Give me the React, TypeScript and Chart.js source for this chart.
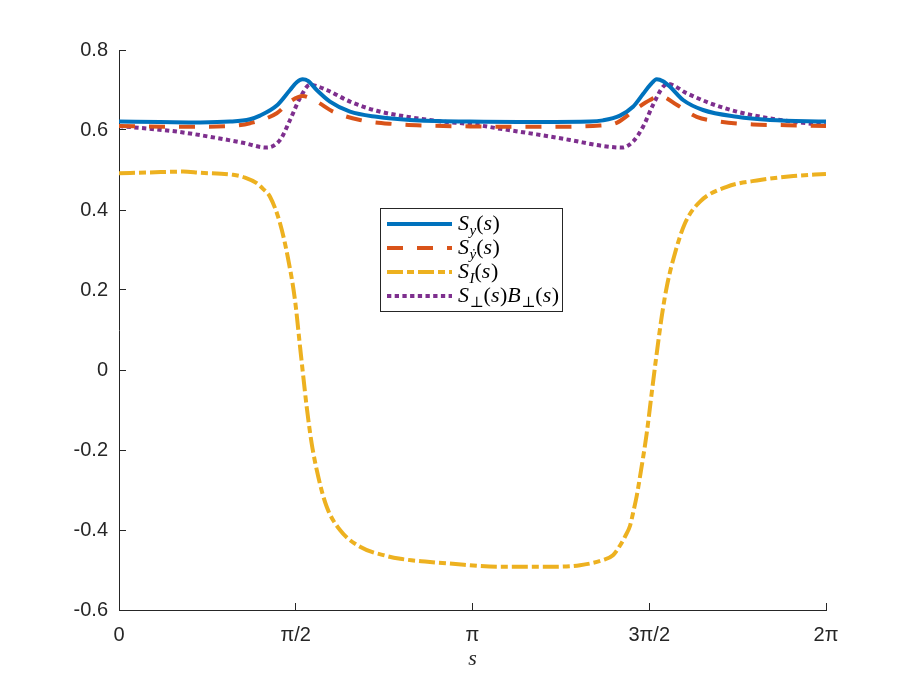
import React, { useEffect, useRef } from 'react'
import { Chart, registerables } from 'chart.js'
Chart.register(...registerables)

// values, s in radians
const sSy = [0, 0.364, 0.72, 0.986, 1.164, 1.253, 1.402, 1.52, 1.582, 1.632, 1.68, 1.757, 1.875, 2.053, 2.29, 2.586, 3.119, 3.741, 4.186, 4.301, 4.452, 4.568, 4.657, 4.719, 4.779, 4.835, 4.897, 5.013, 5.19, 5.49, 5.786, 6.283]
const vSy = [0.621, 0.62, 0.619, 0.621, 0.627, 0.636, 0.661, 0.7, 0.72, 0.727, 0.723, 0.7, 0.671, 0.646, 0.633, 0.625, 0.621, 0.62, 0.621, 0.624, 0.636, 0.658, 0.69, 0.712, 0.727, 0.722, 0.708, 0.675, 0.65, 0.633, 0.625, 0.621]

const sSyd = [0, 0.542, 0.986, 1.164, 1.402, 1.52, 1.632, 1.757, 1.902, 2.142, 2.435, 2.737, 3.119, 3.741, 4.275, 4.423, 4.601, 4.719, 4.808, 4.956, 5.134, 5.341, 5.635, 5.934, 6.283]
const vSyd = [0.61, 0.608, 0.61, 0.617, 0.642, 0.671, 0.685, 0.671, 0.646, 0.625, 0.615, 0.611, 0.609, 0.608, 0.611, 0.618, 0.654, 0.675, 0.685, 0.663, 0.633, 0.621, 0.614, 0.612, 0.61]

const sSI = [0, 0.276, 0.569, 0.72, 1.013, 1.12, 1.224, 1.28, 1.342, 1.431, 1.505, 1.564, 1.609, 1.638, 1.668, 1.712, 1.771, 1.846, 1.964, 2.142, 2.379, 2.5, 2.72, 2.94, 3.386, 3.83, 4.097, 4.301, 4.39, 4.45, 4.5, 4.541, 4.568, 4.601, 4.63, 4.69, 4.734, 4.779, 4.823, 4.868, 4.941, 5.03, 5.164, 5.401, 5.697, 5.993, 6.283]
const vSI = [0.492, 0.494, 0.496, 0.493, 0.488, 0.481, 0.467, 0.453, 0.433, 0.367, 0.275, 0.175, 0.058, -0.017, -0.092, -0.183, -0.267, -0.342, -0.4, -0.442, -0.465, -0.472, -0.479, -0.484, -0.492, -0.492, -0.488, -0.475, -0.463, -0.44, -0.415, -0.39, -0.358, -0.315, -0.267, -0.158, -0.058, 0.042, 0.133, 0.208, 0.292, 0.367, 0.421, 0.458, 0.475, 0.485, 0.49]

const sSB = [0, 0.513, 0.809, 1.102, 1.313, 1.431, 1.52, 1.609, 1.697, 1.846, 2.053, 2.29, 2.586, 2.879, 3.119, 3.413, 3.712, 4.008, 4.301, 4.468, 4.568, 4.657, 4.746, 4.835, 4.879, 5.045, 5.252, 5.49, 5.786, 6.079, 6.283]
const vSB = [0.61, 0.596, 0.583, 0.568, 0.556, 0.575, 0.625, 0.68, 0.713, 0.7, 0.671, 0.648, 0.632, 0.621, 0.615, 0.602, 0.589, 0.575, 0.56, 0.556, 0.571, 0.608, 0.663, 0.708, 0.715, 0.692, 0.667, 0.646, 0.629, 0.618, 0.612]

const seriesLabels = ['S_y(s)', 'S_ẏ(s)', 'S_I(s)', 'S_⊥(s)B_⊥(s)']

const xTicks = [0, Math.PI / 2, Math.PI, (3 * Math.PI) / 2, 2 * Math.PI]
const xTickLabels = ['0', 'π/2', 'π', '3π/2', '2π']
const yTicks = [-0.6, -0.4, -0.2, 0, 0.2, 0.4, 0.6, 0.8]
const yTickLabels = ['-0.6', '-0.4', '-0.2', '0', '0.2', '0.4', '0.6', '0.8']

const axisColor = '#262626'
const tickFont = { family: '"Liberation Sans", Arial, sans-serif', size: 20 }

const pts = (xs: number[], ys: number[]) => xs.map((x, i) => ({ x, y: ys[i] }))

// draws "S_y(s)" style labels: letters italic, "_c" as subscript
function drawMath(ctx: CanvasRenderingContext2D, text: string, x: number, y: number) {
  const serif = '"Liberation Serif", "DejaVu Serif", serif'
  let i = 0
  while (i < text.length) {
    let sub = false
    if (text[i] === '_') { sub = true; i++ }
    const ch = text[i]
    const italic = /[A-Za-zẏ]/.test(ch)
    ctx.font = `${italic ? 'italic ' : ''}${sub ? 15 : 22}px ${serif}`
    ctx.fillText(ch, x, sub ? y + 5 : y)
    x += ctx.measureText(ch).width + (italic && !sub ? 0.5 : 0)
    i++
  }
}

const mathLegend = {
  id: 'mathLegend',
  afterDraw(chart: any) {
    const { ctx, chartArea: a } = chart
    const x0 = Math.round(a.left + (a.right - a.left) * 0.369)
    const y0 = Math.round(a.top + (a.bottom - a.top) * 0.282)
    const w = 182, h = 103
    ctx.save()
    ctx.fillStyle = '#fff'
    ctx.fillRect(x0, y0, w, h)
    ctx.strokeStyle = axisColor
    ctx.lineWidth = 1
    ctx.strokeRect(x0 + 0.5, y0 + 0.5, w, h)
    chart.data.datasets.forEach((ds: any, i: number) => {
      const y = y0 + 16 + i * 24
      ctx.beginPath()
      ctx.setLineDash(ds.borderDash || [])
      ctx.strokeStyle = ds.borderColor
      ctx.lineWidth = ds.borderWidth
      ctx.lineCap = 'butt'
      ctx.moveTo(x0 + 7, y)
      ctx.lineTo(x0 + 72, y)
      ctx.stroke()
      ctx.setLineDash([])
      ctx.fillStyle = '#000'
      ctx.textBaseline = 'alphabetic'
      drawMath(ctx, ds.label, x0 + 78, y + 6)
    })
    ctx.restore()
  },
}

export default function App() {
  const ref = useRef<HTMLCanvasElement | null>(null)
  useEffect(() => {
    if (!ref.current) return
    const line = { pointRadius: 0, fill: false, cubicInterpolationMode: 'monotone' as const, borderCapStyle: 'butt' as const }
    const chart = new Chart(ref.current, {
      type: 'line',
      data: {
        datasets: [
          { ...line, label: seriesLabels[0], data: pts(sSy, vSy), borderColor: '#0072BD', borderWidth: 4 },
          { ...line, label: seriesLabels[1], data: pts(sSyd, vSyd), borderColor: '#D95319', borderWidth: 4, borderDash: [16, 14] },
          { ...line, label: seriesLabels[2], data: pts(sSI, vSI), borderColor: '#EDB120', borderWidth: 4, borderDash: [16, 4, 7, 4] },
          { ...line, label: seriesLabels[3], data: pts(sSB, vSB), borderColor: '#7E2F8E', borderWidth: 4, borderDash: [4.3, 3.4] },
        ],
      },
      options: {
        animation: false,
        responsive: true,
        maintainAspectRatio: false,
        parsing: false,
        layout: { padding: { left: 0, right: 87, top: 50, bottom: 13 } },
        plugins: { legend: { display: false }, tooltip: { enabled: false } },
        scales: {
          x: {
            type: 'linear',
            min: 0,
            max: 2 * Math.PI,
            afterBuildTicks: (s: any) => { s.ticks = xTicks.map(value => ({ value })) },
            afterFit: (s: any) => { s.height = 62 },
            ticks: { callback: (_v: any, i: number) => xTickLabels[i], font: tickFont, color: axisColor, padding: 20, maxRotation: 0, autoSkip: false },
            grid: { drawOnChartArea: false, tickLength: -7, color: axisColor },
            border: { color: axisColor, width: 1 },
            title: { display: true, text: 's', color: axisColor, padding: 0, font: { family: '"Liberation Serif", serif', style: 'italic', size: 22 } },
          },
          y: {
            min: -0.6,
            max: 0.8,
            afterBuildTicks: (s: any) => { s.ticks = yTicks.map(value => ({ value })) },
            afterFit: (s: any) => { s.width = 119 },
            ticks: { callback: (_v: any, i: number) => yTickLabels[i], font: tickFont, color: axisColor, padding: 18, autoSkip: false },
            grid: { drawOnChartArea: false, tickLength: -7, color: axisColor },
            border: { color: axisColor, width: 1 },
          },
        },
      },
      plugins: [mathLegend],
    })
    return () => chart.destroy()
  }, [])
  return (
    <div style={{ position: 'absolute', left: 0, top: 0, width: 913, height: 685, background: '#fff' }}>
      <canvas ref={ref} />
    </div>
  )
}
